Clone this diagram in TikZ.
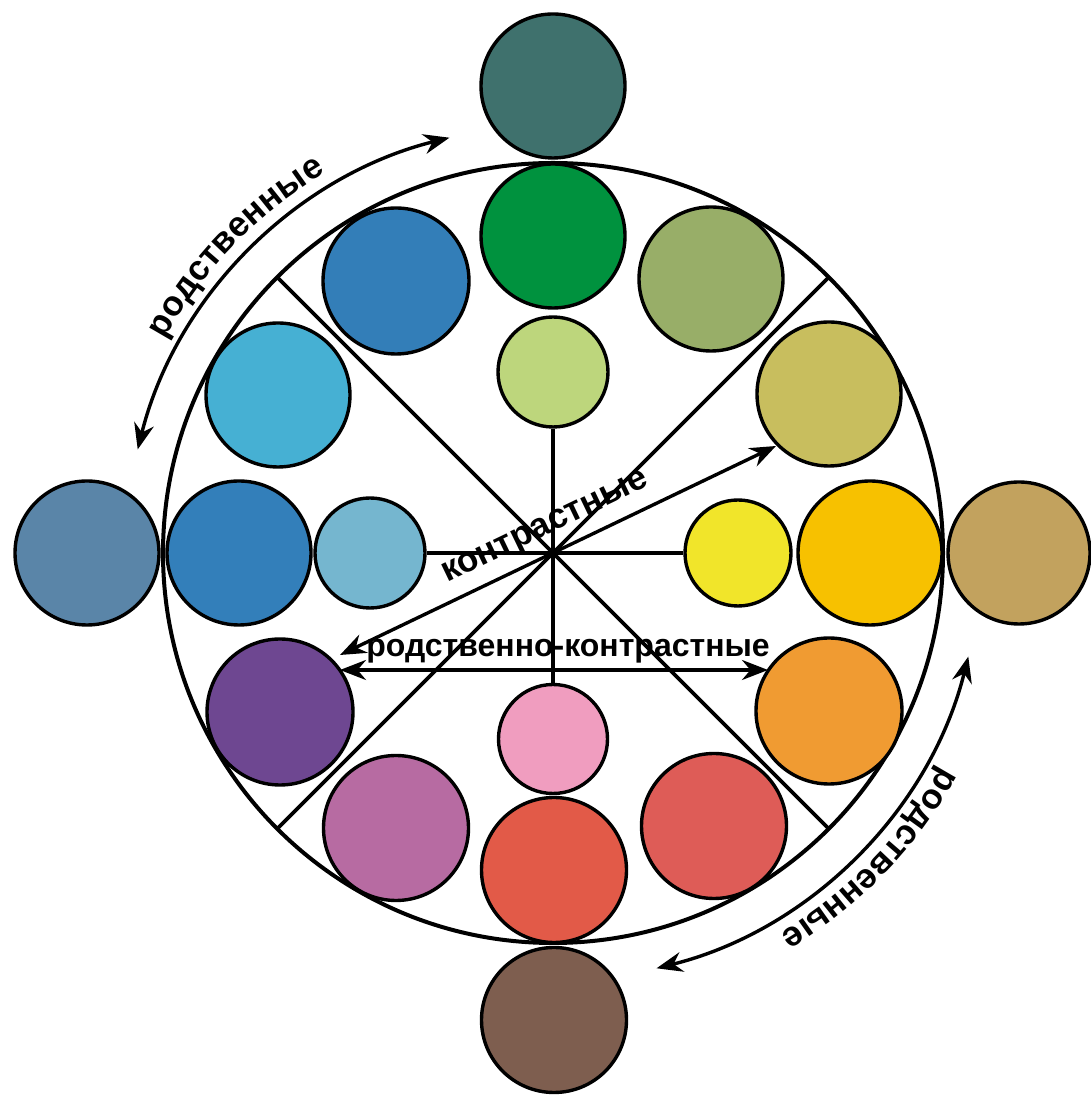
\documentclass[tikz,border=0pt]{standalone}
\usepackage{fontspec}
\setmainfont{Liberation Sans}
\usetikzlibrary{arrows.meta,decorations.text}
\definecolor{cTeal}{HTML}{3F716D}
\definecolor{cGreen}{HTML}{00923E}
\definecolor{cLGreen}{HTML}{BDD67C}
\definecolor{cBlueA}{HTML}{337EB8}
\definecolor{cOlive}{HTML}{98AE68}
\definecolor{cKhaki}{HTML}{C8BE5E}
\definecolor{cLBlue}{HTML}{46B0D3}
\definecolor{cSteel}{HTML}{5A85A8}
\definecolor{cBlueB}{HTML}{337FBA}
\definecolor{cPBlue}{HTML}{75B6CF}
\definecolor{cYellow}{HTML}{F1E52A}
\definecolor{cGold}{HTML}{F7C100}
\definecolor{cTan}{HTML}{C2A25E}
\definecolor{cPurple}{HTML}{6E4791}
\definecolor{cOrange}{HTML}{F09B32}
\definecolor{cMagenta}{HTML}{B76BA2}
\definecolor{cRedA}{HTML}{DE5C57}
\definecolor{cPink}{HTML}{F09DBF}
\definecolor{cRedB}{HTML}{E25A48}
\definecolor{cBrown}{HTML}{7E5E4F}
\newcommand\mylblfont{\fontsize{32}{38}\selectfont\bfseries}
\newcommand\myctrfont{\fontsize{35}{40}\selectfont\bfseries}
\newcommand\myarcfont{\fontsize{35}{40}\selectfont\bfseries}
\begin{document}
\begin{tikzpicture}[x=1pt,y=1pt,
  disc/.style={circle, draw=black, line width=3.4pt, inner sep=0pt, minimum size=#1},
  spoke/.style={draw=black, line width=3.6pt},
  arr/.style={draw=black, line width=3.4pt, {Stealth[length=26pt,width=20pt]}-{Stealth[length=26pt,width=20pt]}},
  lbl/.style={inner sep=0pt, text=black}]
\useasboundingbox (0,0) rectangle (1091,1097);
\coordinate (C) at (553,544);
% big circle
\node[circle, draw=black, line width=4pt, inner sep=0pt, minimum size=780pt] (big) at (C) {};
% spokes
\coordinate (d1) at ([shift={(45:390)}]C);
\coordinate (d2) at ([shift={(135:390)}]C);
\coordinate (d3) at ([shift={(225:390)}]C);
\coordinate (d4) at ([shift={(315:390)}]C);
\draw[spoke] (C) -- (d1);
\draw[spoke] (C) -- (d2);
\draw[spoke] (C) -- (d3);
\draw[spoke] (C) -- (d4);
% circles
\node[disc=144pt, fill=cTeal] (n1) at (553,1011) {};
\node[disc=144pt, fill=cGreen] (n2) at (553,861) {};
\node[disc=110pt, fill=cLGreen] (n3) at (553,725) {};
\node[disc=146pt, fill=cBlueA] (n4) at (396,816) {};
\node[disc=144pt, fill=cOlive] (n5) at (711,818) {};
\node[disc=144pt, fill=cKhaki] (n6) at (829,703) {};
\node[disc=144pt, fill=cLBlue] (n7) at (278,702) {};
\node[disc=144pt, fill=cSteel] (n8) at (87,544) {};
\node[disc=144pt, fill=cBlueB] (n9) at (239,544) {};
\node[disc=110pt, fill=cPBlue] (n10) at (370,544) {};
\node[disc=106pt, fill=cYellow] (n11) at (738,544) {};
\node[disc=144pt, fill=cGold] (n12) at (870,544) {};
\node[disc=142pt, fill=cTan] (n13) at (1019,544) {};
\node[disc=146pt, fill=cPurple] (n14) at (280,385) {};
\node[disc=146pt, fill=cOrange] (n15) at (829,386) {};
\node[disc=145pt, fill=cMagenta] (n16) at (396,269) {};
\node[disc=145pt, fill=cRedA] (n17) at (714,271) {};
\node[disc=109pt, fill=cPink] (n18) at (553,358) {};
\node[disc=145pt, fill=cRedB] (n19) at (554,227) {};
\node[disc=145pt, fill=cBrown] (n20) at (554,77) {};
\draw[spoke] (C) -- (n3.south);
\draw[spoke] (C) -- (n18.north);
\draw[spoke] (C) -- (n10.east);
\draw[spoke] (C) -- (n11.west);
% contrast arrows
\coordinate (ca) at (340,442);
\coordinate (cb) at (776,651);
\coordinate (ha) at (340,427);
\coordinate (hb) at (768,427);
\draw[arr] (ca) -- (cb);
\draw[arr] (ha) -- (hb);
\node[lbl, font=\mylblfont, anchor=base] (t1) at (568,440) {родственно-контрастные};
\node[lbl, font=\myctrfont, rotate=25.7] (t2) at (546,568) {контрастные};
% related arcs
\coordinate (r1) at ([shift={(166:428)}]C);
\coordinate (r2) at ([shift={(-14:428)}]C);
\draw[arr] (r1) arc[start angle=166, end angle=104, radius=428];
\draw[arr] (r2) arc[start angle=-14, end angle=-76, radius=428];
\coordinate (q1) at ([shift={(166:443)}]C);
\coordinate (q2) at ([shift={(-14:443)}]C);
\path[decorate, decoration={text along path, text={|\myarcfont|родственные}, text align=center}]
  (q1) arc[start angle=166, end angle=106, radius=443];
\path[decorate, decoration={text along path, text={|\myarcfont|родственные}, text align=center}]
  (q2) arc[start angle=-14, end angle=-74, radius=443];
\end{tikzpicture}
\end{document}
